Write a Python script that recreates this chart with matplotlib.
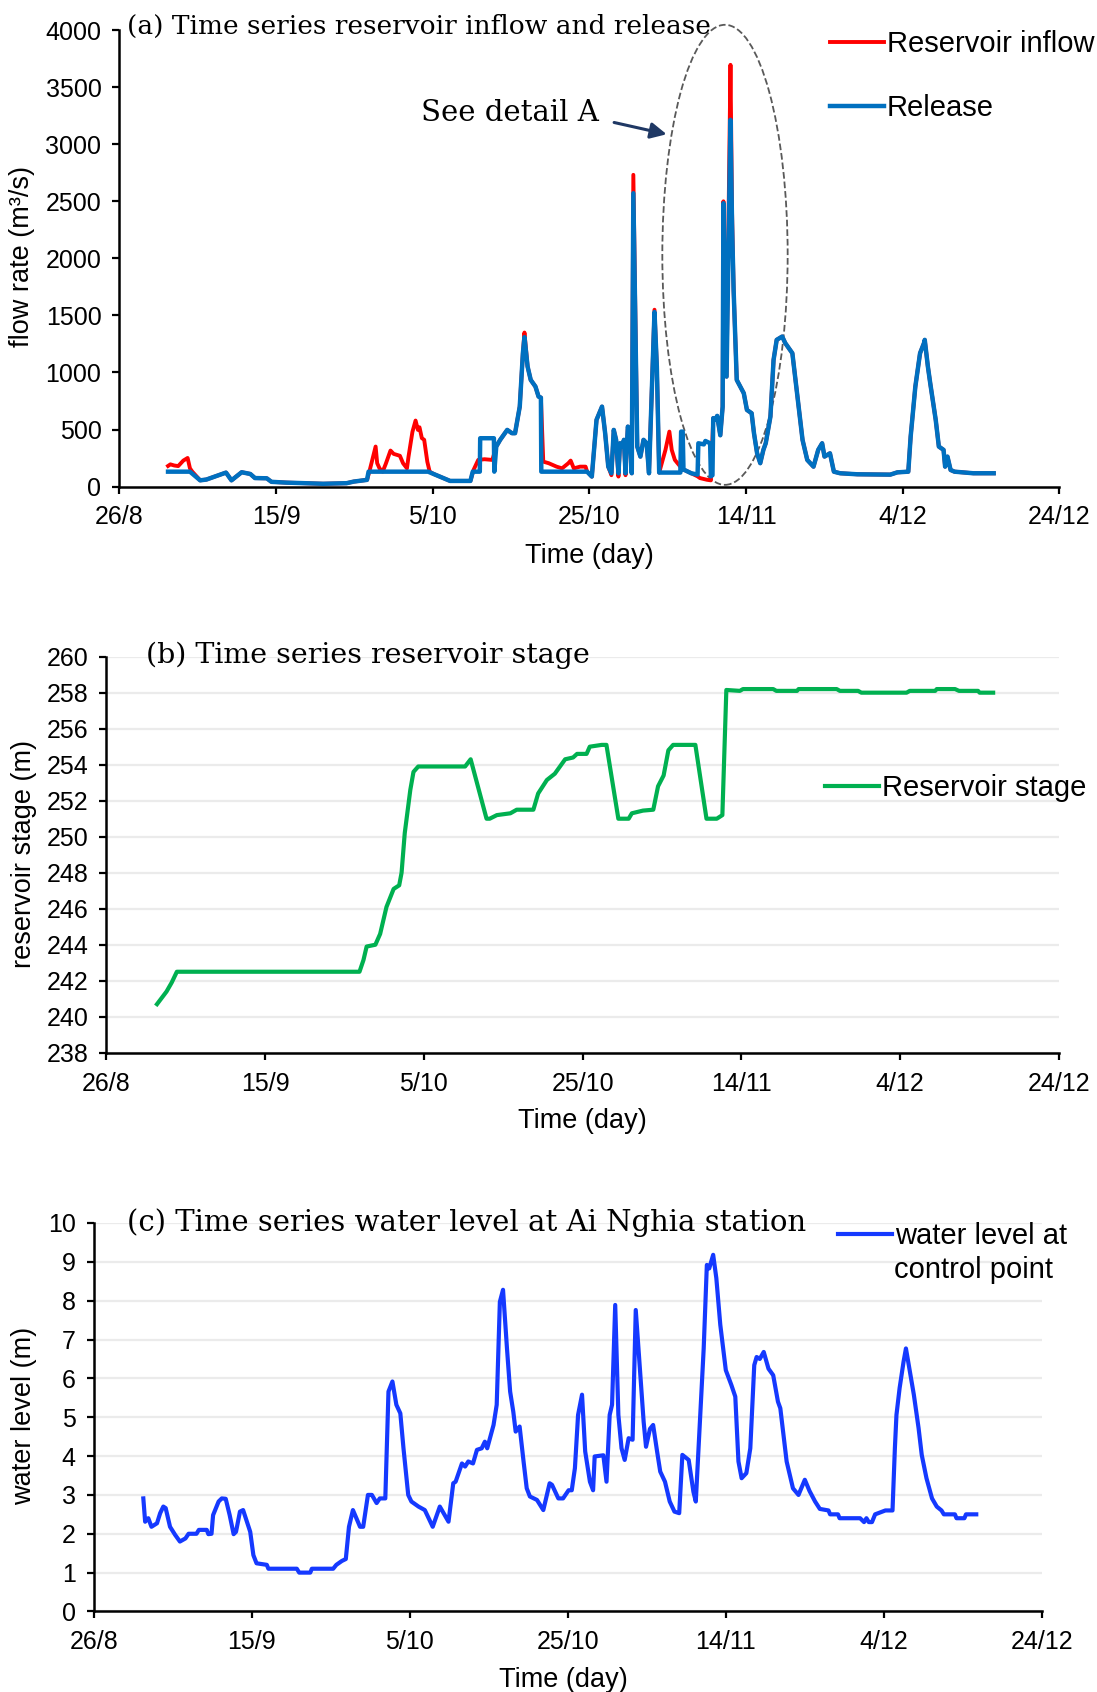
# =========================================================
# RESERVOIR INFLOW / RELEASE, STAGE AND WATER LEVEL AT AI NGHIA
# =========================================================

import matplotlib.pyplot as plt
from matplotlib.patches import Ellipse

# === 1. DATA (day counted from 26/8) ===
tick_days = [0, 20, 40, 60, 80, 100, 120]
tick_labels = ["26/8", "15/9", "5/10", "25/10", "14/11", "4/12", "24/12"]

release_day = [6.2, 9.0, 10.3, 11.1, 12.8, 13.6, 14.3, 15.6, 16.7, 17.3,
               18.8, 19.4, 21.3, 26.0, 29.0, 29.9, 31.6, 31.8, 39.4, 40.1,
               40.9, 42.2, 44.8, 45.1, 46.0, 46.05, 47.8, 47.85, 48.1, 48.6,
               49.5, 50.1, 50.5, 51.1, 51.5, 51.7, 52.1, 52.5, 53.1, 53.5,
               53.8, 53.85, 59.7, 60.3, 60.9, 61.6, 62.0, 62.4, 62.8, 63.1,
               63.4, 63.7, 63.9, 64.2, 64.4, 64.6, 64.9, 65.2, 65.4, 65.6,
               66.1, 66.5, 66.9, 67.3, 67.6, 68.3, 68.6, 68.9, 71.6, 71.7,
               71.9, 72.0, 73.0, 73.8, 73.9, 74.6, 74.8, 75.4, 75.5, 75.7,
               75.8, 76.1, 76.3, 76.7, 77.0, 77.1, 77.5, 78.0, 78.2, 78.4,
               78.8, 79.7, 80.1, 80.7, 81.0, 81.4, 81.8, 82.2, 82.5, 83.1,
               83.5, 83.9, 84.6, 85.0, 85.6, 85.9, 86.5, 87.2, 87.8, 88.6,
               89.2, 89.7, 90.0, 90.7, 91.2, 92.0, 94.2, 98.4, 99.3, 100.7,
               101.0, 101.6, 102.2, 102.7, 102.8, 103.2, 103.5, 104.2, 104.6, 105.2,
               105.4, 105.7, 106.1, 106.6, 109.0, 111.6]
release_q = [131, 131, 55, 62, 103, 123, 55, 126, 111, 75,
             73, 42, 35, 25, 30, 44, 59, 131, 131, 111,
             88, 50, 50, 131, 131, 424, 424, 131, 351, 410,
             497, 468, 468, 701, 1169, 1310, 1052, 935, 877, 789,
             780, 131, 131, 88, 585, 701, 468, 175, 117, 497,
             410, 117, 380, 351, 410, 117, 526, 468, 117, 2571,
             351, 263, 410, 380, 117, 1530, 1052, 123, 123, 482,
             482, 150, 117, 105, 380, 370, 400, 380, 90, 100,
             600, 585, 620, 450, 700, 2484, 964, 3214, 2300, 1724,
             935, 818, 672, 643, 468, 292, 205, 322, 380, 614,
             1110, 1286, 1315, 1257, 1198, 1169, 818, 409, 234, 175,
             322, 380, 263, 292, 131, 117, 108, 105, 125, 131,
             438, 877, 1169, 1257, 1286, 1052, 906, 585, 351, 322,
             175, 263, 146, 131, 117, 117]

inflow_day = [6.2, 6.5, 7.0, 7.5, 8.15, 8.7, 9.0, 9.3, 10.3, 11.1,
              12.8, 13.6, 14.3, 15.6, 16.7, 17.3, 18.8, 19.4, 21.3, 26.0,
              29.0, 29.9, 31.6, 31.9, 32.7, 32.9, 33.2, 33.6, 34.0, 34.6,
              35.0, 35.8, 36.2, 36.7, 36.9, 37.4, 37.8, 38.1, 38.3, 38.6,
              38.9, 39.3, 39.6, 40.1, 40.9, 42.2, 44.8, 45.2, 45.8, 46.6,
              47.6, 48.1, 48.6, 49.5, 50.1, 50.5, 51.1, 51.5, 51.7, 52.1,
              52.5, 53.1, 53.5, 53.8, 54.1, 54.8, 55.8, 56.5, 57.3, 57.6,
              58.0, 58.8, 59.5, 59.7, 60.3, 60.9, 61.6, 62.0, 62.4, 62.8,
              63.1, 63.4, 63.7, 63.9, 64.2, 64.4, 64.6, 64.9, 65.2, 65.4,
              65.6, 66.1, 66.5, 66.9, 67.3, 67.6, 68.3, 68.6, 68.9, 69.7,
              70.2, 70.5, 70.9, 71.6, 72.0, 73.0, 73.8, 74.1, 75.0, 75.5,
              75.8, 76.1, 76.3, 76.7, 77.0, 77.1, 77.5, 78.0, 78.2, 78.4,
              78.8, 79.7, 80.1, 80.7, 81.0, 81.4, 81.8, 82.2, 82.5, 83.1,
              83.5, 83.9, 84.6, 85.0, 85.6, 85.9, 86.5, 87.2, 87.8, 88.6,
              89.2, 89.7, 90.0, 90.7, 91.2, 92.0, 94.2, 98.4, 99.3, 100.7,
              101.0, 101.6, 102.2, 102.7, 102.8, 103.2, 103.5, 104.2, 104.6, 105.2,
              105.4, 105.7, 106.1, 106.6, 109.0, 111.6]
inflow_q = [181, 195, 185, 180, 228, 251, 160, 131, 55, 62,
            103, 123, 55, 126, 111, 75, 73, 42, 35, 25,
            30, 44, 59, 131, 351, 205, 160, 131, 200, 316,
            287, 270, 205, 160, 263, 480, 579, 497, 520, 425,
            410, 218, 131, 111, 88, 50, 50, 146, 234, 240,
            234, 351, 410, 497, 468, 468, 701, 1169, 1350, 1052,
            935, 877, 789, 780, 219, 205, 175, 160, 205, 228,
            160, 175, 175, 131, 88, 585, 701, 468, 175, 100,
            497, 410, 88, 380, 351, 410, 100, 526, 468, 117,
            2732, 351, 263, 410, 380, 117, 1550, 1052, 123, 322,
            482, 322, 234, 175, 150, 117, 90, 75, 60, 55,
            600, 585, 620, 450, 700, 2500, 964, 3696, 2400, 1724,
            935, 818, 672, 643, 468, 292, 205, 322, 380, 614,
            1110, 1286, 1315, 1257, 1198, 1169, 818, 409, 234, 175,
            322, 380, 263, 292, 131, 117, 108, 105, 125, 131,
            438, 877, 1169, 1257, 1286, 1052, 906, 585, 351, 322,
            175, 263, 146, 131, 117, 117]

stage_day = [6.4, 7.6, 8.25, 8.9, 31.9, 32.4, 32.8, 33.9, 34.5, 35.3,
             36.2, 36.9, 37.2, 37.6, 38.3, 38.7, 39.3, 45.2, 45.9, 47.9,
             48.3, 49.2, 50.9, 51.7, 53.8, 54.4, 55.5, 56.5, 57.8, 58.8,
             59.3, 60.5, 60.9, 62.4, 63.0, 64.5, 65.8, 66.2, 67.6, 68.9,
             69.5, 70.2, 70.8, 71.4, 74.2, 75.6, 76.9, 77.6, 78.1, 79.8,
             80.2, 84.0, 84.4, 87.0, 87.2, 92.0, 92.4, 94.7, 95.1, 100.8,
             101.2, 104.4, 104.6, 106.9, 107.4, 109.8, 110.0, 111.7]
stage_m = [240.7, 241.4, 241.9, 242.5, 242.5, 243.15, 243.9, 244.0, 244.6, 246.1,
           247.1, 247.3, 248.0, 250.2, 252.6, 253.6, 253.9, 253.9, 254.3, 251.0,
           251.0, 251.2, 251.3, 251.5, 251.5, 252.4, 253.15, 253.5, 254.3, 254.4,
           254.6, 254.6, 255.0, 255.1, 255.1, 251.0, 251.0, 251.3, 251.45, 251.5,
           252.8, 253.4, 254.8, 255.1, 255.1, 251.0, 251.0, 251.2, 258.15, 258.1,
           258.2, 258.2, 258.1, 258.1, 258.2, 258.2, 258.1, 258.1, 258.0, 258.0,
           258.1, 258.1, 258.2, 258.2, 258.1, 258.1, 258.0, 258.0]

level_day = [6.27, 6.5, 6.9, 7.3, 8.0, 8.4, 8.8, 9.1, 9.65, 10.3,
             10.9, 11.6, 12.0, 13.0, 13.3, 14.3, 14.5, 14.9, 15.1, 15.8,
             16.2, 16.7, 17.2, 17.7, 18.0, 18.5, 18.9, 19.8, 20.2, 20.6,
             21.9, 22.1, 25.7, 26.0, 27.4, 27.6, 30.3, 30.7, 31.4, 31.9,
             32.3, 32.8, 33.7, 34.1, 34.7, 35.2, 35.8, 36.2, 36.9, 37.3,
             37.8, 38.3, 38.8, 39.2, 39.8, 40.2, 41.1, 41.9, 42.9, 43.8,
             44.9, 45.5, 45.8, 46.6, 47.0, 47.4, 48.0, 48.5, 49.1, 49.5,
             49.8, 50.6, 51.0, 51.4, 51.8, 52.3, 52.7, 53.1, 53.4, 53.9,
             54.4, 54.8, 55.2, 56.1, 56.9, 57.7, 58.0, 58.8, 59.4, 60.1,
             60.5, 60.9, 61.3, 61.8, 62.2, 62.8, 63.2, 63.4, 64.5, 64.9,
             65.3, 65.6, 66.0, 66.4, 66.8, 67.2, 67.7, 68.2, 68.6, 69.1,
             69.6, 69.9, 70.4, 70.8, 71.3, 71.7, 72.3, 72.9, 73.5, 74.1,
             74.5, 75.3, 75.9, 76.2, 76.7, 77.2, 77.6, 77.9, 78.4, 78.8,
             79.3, 80.0, 80.7, 81.2, 81.6, 82.0, 82.6, 83.1, 83.6, 83.9,
             84.3, 84.8, 85.4, 86.0, 86.6, 86.9, 87.7, 88.5, 89.2, 90.0,
             90.6, 91.3, 91.9, 93.0, 93.2, 94.2, 94.4, 97.0, 97.5, 97.8,
             98.1, 98.5, 98.9, 100.2, 101.1, 101.4, 101.6, 102.0, 102.5, 102.8,
             103.3, 103.8, 104.4, 104.8, 105.4, 106.1, 106.7, 107.3, 107.6, 109.0,
             109.2, 110.2, 110.4, 111.7]
level_m = [2.91, 2.31, 2.4, 2.18, 2.27, 2.53, 2.7, 2.66, 2.18, 1.97,
           1.8, 1.88, 2.0, 2.0, 2.1, 2.1, 1.99, 2.0, 2.48, 2.83,
           2.91, 2.9, 2.48, 1.99, 2.05, 2.57, 2.61, 2.05, 1.45, 1.24,
           1.2, 1.1, 1.1, 1.0, 1.0, 1.1, 1.1, 1.2, 1.3, 1.35,
           2.18, 2.61, 2.18, 2.18, 3.0, 3.0, 2.79, 2.91, 2.91, 5.66,
           5.92, 5.32, 5.1, 4.2, 3.0, 2.83, 2.7, 2.61, 2.18, 2.7,
           2.31, 3.3, 3.34, 3.81, 3.73, 3.86, 3.81, 4.16, 4.2, 4.37,
           4.2, 4.8, 5.32, 7.97, 8.28, 6.77, 5.66, 5.14, 4.63, 4.76,
           3.86, 3.17, 2.96, 2.87, 2.61, 3.3, 3.26, 2.91, 2.91, 3.12,
           3.12, 3.69, 5.06, 5.58, 4.12, 3.34, 3.12, 3.99, 4.02, 3.34,
           5.06, 5.32, 7.89, 5.06, 4.2, 3.9, 4.46, 4.42, 7.76, 6.34,
           4.88, 4.24, 4.7, 4.8, 4.12, 3.6, 3.34, 2.83, 2.57, 2.53,
           4.03, 3.9, 3.08, 2.83, 4.8, 6.77, 8.92, 8.83, 9.18, 8.58,
           7.38, 6.21, 5.83, 5.53, 3.86, 3.43, 3.56, 4.2, 6.34, 6.55,
           6.5, 6.68, 6.25, 6.08, 5.4, 5.23, 3.86, 3.17, 3.0, 3.39,
           3.1, 2.83, 2.64, 2.6, 2.5, 2.5, 2.4, 2.4, 2.3, 2.4,
           2.3, 2.3, 2.5, 2.6, 2.6, 4.2, 5.06, 5.75, 6.43, 6.77,
           6.17, 5.58, 4.72, 4.03, 3.43, 2.91, 2.7, 2.6, 2.5, 2.5,
           2.4, 2.4, 2.5, 2.5]

# === 2. STYLE ===
plt.rcParams['font.family'] = ['Liberation Sans', 'DejaVu Sans']
SERIF = 'DejaVu Serif'
TICK_FS = 18
LABEL_FS = 19.5
LEG_FS = 21

fig = plt.figure(figsize=(10.97, 16.92), dpi=100)
ax_a = fig.add_axes([0.1089, 0.7124, 0.8569, 0.2698])
ax_b = fig.add_axes([0.0968, 0.3778, 0.8686, 0.2341])
ax_c = fig.add_axes([0.0855, 0.0476, 0.8642, 0.2296])


def style_axis(ax, ylim, ystep, grid):
    ax.set_xlim(0, 120)
    ax.set_ylim(*ylim)
    ax.set_xticks(tick_days)
    ax.set_xticklabels(tick_labels)
    ax.set_yticks(range(ylim[0], ylim[1] + 1, ystep))
    for side in ['top', 'right']:
        ax.spines[side].set_visible(False)
    for side in ['left', 'bottom']:
        ax.spines[side].set_linewidth(1.8)
    ax.tick_params(axis='x', length=5, width=1.6, pad=8.5, labelsize=TICK_FS)
    ax.tick_params(axis='y', length=5, width=1.6, pad=8, labelsize=TICK_FS)
    if grid:
        ax.grid(axis='y', color='#EBEBEB', linewidth=1.6)
        ax.set_axisbelow(True)


def legend_at(ax, x_px, top_px):
    ax.legend(loc='upper left', bbox_to_anchor=(x_px / 1097, 1 - top_px / 1692),
              bbox_transform=fig.transFigure, frameon=False, fontsize=LEG_FS,
              handlelength=1.85, handletextpad=0.1, labelspacing=1.25,
              borderpad=0, borderaxespad=0)


# === 3. (a) INFLOW AND RELEASE ===
style_axis(ax_a, (0, 4000), 500, grid=False)
ax_a.plot(inflow_day, inflow_q, color='#FF0000', lw=2.8, label='Reservoir inflow')
ax_a.plot(release_day, release_q, color='#0070C0', lw=3.2, label='Release')
ax_a.set_xlabel('Time (day)', fontsize=LABEL_FS)
ax_a.set_ylabel('flow rate (m³/s)', fontsize=LABEL_FS)
ax_a.xaxis.set_label_coords(0.5, -0.123)
ax_a.yaxis.set_label_coords(-0.0894, 0.503)
ax_a.text(0.008, 1.009, '(a) Time series reservoir inflow and release',
          transform=ax_a.transAxes, family=SERIF, fontsize=19, va='center')
ax_a.add_patch(Ellipse((77.3, 2031), width=16.0, height=4031, fill=False,
                       edgecolor='#595959', linestyle='--', lw=1.3, clip_on=False))
ax_a.annotate('', xy=(70.2, 3082), xytext=(62.8, 3196),
              arrowprops=dict(arrowstyle='-|>', color='#1F3864', lw=2.2, mutation_scale=24))
ax_a.text(38.5, 3275, 'See detail A', family=SERIF, fontsize=21, va='center')
legend_at(ax_a, 830, 30)

# === 4. (b) RESERVOIR STAGE ===
style_axis(ax_b, (238, 260), 2, grid=True)
ax_b.plot(stage_day, stage_m, color='#00B050', lw=3.0, label='Reservoir stage')
ax_b.set_xlabel('Time (day)', fontsize=LABEL_FS)
ax_b.set_ylabel('reservoir stage (m)', fontsize=LABEL_FS)
ax_b.xaxis.set_label_coords(0.5, -0.140)
ax_b.yaxis.set_label_coords(-0.0726, 0.502)
ax_b.text(0.042, 1.004, '(b) Time series reservoir stage',
          transform=ax_b.transAxes, family=SERIF, fontsize=20.5, va='center')
legend_at(ax_b, 825, 774)

# === 5. (c) WATER LEVEL AT AI NGHIA ===
style_axis(ax_c, (0, 10), 1, grid=True)
ax_c.plot(level_day, level_m, color='#1539FF', lw=3.0, label='water level at')
ax_c.set_xlabel('Time (day)', fontsize=LABEL_FS)
ax_c.set_ylabel('water level (m)', fontsize=LABEL_FS)
ax_c.xaxis.set_label_coords(0.495, -0.1426)
ax_c.yaxis.set_label_coords(-0.0599, 0.504)
ax_c.text(0.035, 1.002, '(c) Time series water level at Ai Nghia station',
          transform=ax_c.transAxes, family=SERIF, fontsize=21, va='center')
legend_at(ax_c, 838, 1222)
fig.text(894 / 1097, 1 - 1270 / 1692, 'control point', fontsize=LEG_FS, va='center')

fig.savefig('out.png', dpi=100)
